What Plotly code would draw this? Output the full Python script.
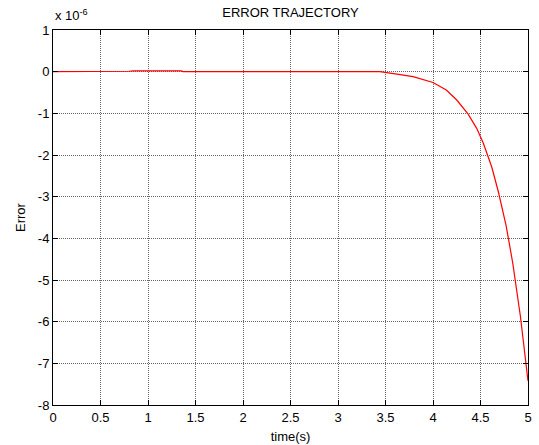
import plotly.graph_objects as go

# Error trajectory samples (error in units of 1e-6)
time_s = [0.0, 0.5, 0.68, 0.70, 0.72, 0.75, 0.78, 0.80, 0.85, 0.9, 1.0, 1.1, 1.2, 1.3, 1.35,
          1.37, 2.0, 2.5, 3.0, 3.44, 3.62, 3.79, 4.0, 4.14, 4.25, 4.37, 4.46, 4.53,
          4.62, 4.69, 4.77, 4.84, 4.92, 5.0]
error_e6 = [0.0, 0.0, 0.0, 0.01, 0.0, 0.01, 0.0, 0.01, 0.02, 0.02, 0.02, 0.02, 0.02, 0.02, 0.02,
            0.0, 0.0, 0.0, 0.0, 0.0, -0.06, -0.12, -0.26, -0.44, -0.68, -1.02, -1.36, -1.72,
            -2.3, -2.9, -3.7, -4.6, -5.87, -7.42]

x_ticks = [0, 0.5, 1, 1.5, 2, 2.5, 3, 3.5, 4, 4.5, 5]
y_ticks = [1, 0, -1, -2, -3, -4, -5, -6, -7, -8]

font = dict(family="Liberation Sans, Arial, sans-serif", size=13, color="black")

fig = go.Figure()
fig.add_trace(go.Scatter(x=time_s, y=error_e6, mode="lines",
                         line=dict(color="red", width=1.2), showlegend=False))

axis_common = dict(
    showline=True, linecolor="black", linewidth=1, mirror="ticks",
    ticks="inside", ticklen=5, tickcolor="black",
    showgrid=True, gridcolor="rgba(0,0,0,0.6)", griddash="1px,1px", gridwidth=1,
    zeroline=False, tickfont=font, automargin=False,
)

fig.update_xaxes(range=[0, 5], tickvals=x_ticks, ticktext=[f"{v:g}" for v in x_ticks],
                 title=dict(text="time(s)", font=font, standoff=8), **axis_common)
fig.update_yaxes(range=[-8, 1], tickvals=y_ticks, ticktext=[f"{v:g}" for v in y_ticks],
                 title=dict(text="Error", font=font, standoff=9), **axis_common)

fig.update_layout(
    width=539, height=445,
    margin=dict(l=53, r=11, t=30, b=40),
    paper_bgcolor="white", plot_bgcolor="white",
    font=font,
    title=dict(text="ERROR TRAJECTORY", x=0.5, xref="paper", y=1, yref="paper",
               yanchor="bottom", pad=dict(b=13), font=font, automargin=False),
    annotations=[dict(text="x 10<sup>-6</sup>", xref="paper", yref="paper",
                      x=0, y=1, xanchor="left", yanchor="bottom", yshift=5,
                      showarrow=False, font=font)],
)

fig.write_html("out.html")
